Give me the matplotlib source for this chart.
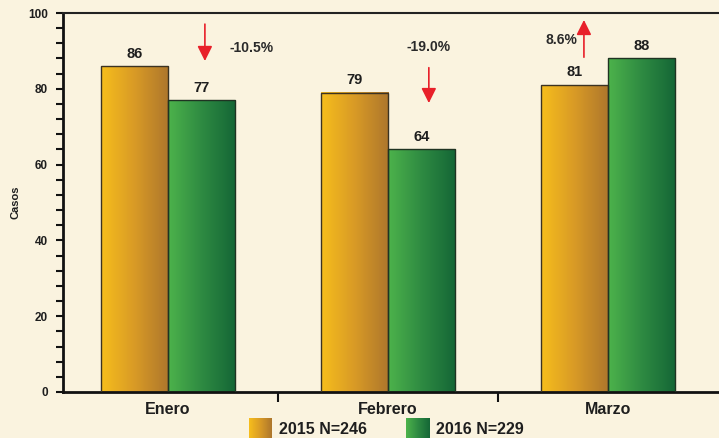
import numpy as np
import matplotlib
matplotlib.use("Agg")
import matplotlib.pyplot as plt
from matplotlib.ticker import MultipleLocator
from matplotlib.colors import LinearSegmentedColormap

# data
months = ["Enero", "Febrero", "Marzo"]
casos_2015 = [86, 79, 81]
casos_2016 = [77, 64, 88]
series_labels = ["2015 N=246", "2016 N=229"]
changes = ["-10.5%", "-19.0%", "8.6%"]

bg = "#FAF3DF"
txt = "#1e1e1e"
orange_cmap = LinearSegmentedColormap.from_list("orange", ["#F7BE1C", "#D89A26", "#AD762C"])
green_cmap = LinearSegmentedColormap.from_list("green", ["#4DB34B", "#2E8A42", "#146636"])
grad = np.linspace(0, 1, 256).reshape(1, -1)

plt.rcParams["font.family"] = ["Liberation Sans", "DejaVu Sans"]
plt.rcParams["font.weight"] = "bold"

fig = plt.figure(figsize=(7.19, 4.38), dpi=100, facecolor=bg)
ax = fig.add_axes([63 / 719, 46 / 438, 1 - 63 / 719, 379 / 438])
ax.set_facecolor(bg)

x = np.arange(len(months))
w = 0.305
bars1 = ax.bar(x - w / 2, casos_2015, w, color="none", edgecolor="#3b3222", linewidth=1.0, zorder=3)
bars2 = ax.bar(x + w / 2, casos_2016, w, color="none", edgecolor="#1f3322", linewidth=1.0, zorder=3)


def fill_gradient(bars, cmap):
    for b in bars:
        x0, y0 = b.get_x(), b.get_y()
        ax.imshow(grad, cmap=cmap, aspect="auto", zorder=2,
                  extent=(x0, x0 + b.get_width(), y0, y0 + b.get_height()))


fill_gradient(bars1, orange_cmap)
fill_gradient(bars2, green_cmap)

for bars, vals in [(bars1, casos_2015), (bars2, casos_2016)]:
    for b, v in zip(bars, vals):
        ax.annotate(str(v), (b.get_x() + b.get_width() / 2, v), xytext=(0, 4),
                    textcoords="offset points", ha="center", va="bottom",
                    fontsize=10.5, fontweight="bold", color=txt)

# change arrows
arrow_style = dict(arrowstyle="-|>,head_width=0.45,head_length=0.9", color="#E8202A", lw=1.2)
ax.annotate("", xy=(0.168, 86.6), xytext=(0.168, 97.8), arrowprops=arrow_style)
ax.text(0.378, 90.8, changes[0], ha="center", va="center", fontsize=10, fontweight="bold", color="#2a2a2a")
ax.annotate("", xy=(1.186, 75.5), xytext=(1.186, 86.3), arrowprops=arrow_style)
ax.text(1.186, 91.0, changes[1], ha="center", va="center", fontsize=10, fontweight="bold", color="#2a2a2a")
ax.annotate("", xy=(1.891, 98.9), xytext=(1.891, 87.6), arrowprops=arrow_style)
ax.text(1.787, 92.9, changes[2], ha="center", va="center", fontsize=10, fontweight="bold", color="#2a2a2a")

ax.set_xlim(-0.477, 2.505)
ax.set_ylim(0, 100)
ax.set_xticks(x)
ax.set_xticklabels(months, fontsize=11.5, fontweight="bold", color=txt)
ax.tick_params(axis="x", length=0, pad=7)
ax.set_xticks(x[:-1] + 0.5, minor=True)
ax.tick_params(axis="x", which="minor", length=7, width=1.5, color="#111")
ax.yaxis.set_major_locator(MultipleLocator(20))
ax.yaxis.set_minor_locator(MultipleLocator(4))
ax.tick_params(axis="y", which="both", length=5, width=1.5, color="#111", labelsize=8.5,
               labelcolor=txt, pad=6)
for lab in ax.get_yticklabels():
    lab.set_fontweight("bold")
ax.set_ylabel("Casos", fontsize=8, fontweight="bold", color=txt, labelpad=5)

for s in ["left", "bottom"]:
    ax.spines[s].set_linewidth(2)
    ax.spines[s].set_color("#111")
ax.spines["top"].set_linewidth(1.5)
ax.spines["top"].set_color("#222")
ax.spines["right"].set_visible(False)

# legend drawn by hand so the swatches keep the gradient
for cmap, label, px in [(orange_cmap, series_labels[0], 249), (green_cmap, series_labels[1], 406)]:
    sw = fig.add_axes([px / 719, -4 / 438, 23 / 719, 24 / 438])
    sw.imshow(grad, cmap=cmap, aspect="auto")
    sw.set_axis_off()
    fig.text((px + 30) / 719, 1 / 438, label, ha="left", va="bottom",
             fontsize=11.5, fontweight="bold", color=txt)

fig.savefig("out.png", dpi=100, facecolor=bg)
